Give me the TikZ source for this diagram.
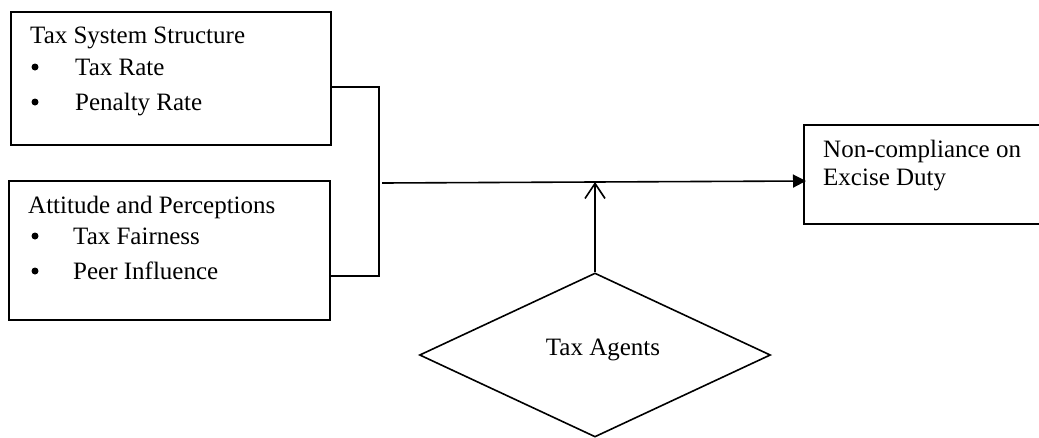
\documentclass[tikz,border=0pt]{standalone}
\usepackage{fontspec}
\setmainfont{Liberation Serif}
\usetikzlibrary{shapes.geometric,arrows.meta}
\begin{document}
\begin{tikzpicture}[x=1pt,y=-1pt,
  box/.style={draw,line width=1.6pt,inner sep=0pt,anchor=north west},
  txt/.style={anchor=base west,inner sep=0pt,font=\fontsize{25}{30}\selectfont},
  conn/.style={line width=1.6pt},
  bul/.style={fill,circle,inner sep=0pt,minimum size=7pt}]
\useasboundingbox (0,0) rectangle (1039,437);
% boxes
\node[box,minimum width=320pt,minimum height=133pt] (b1) at (10,11) {};
\node[box,minimum width=321pt,minimum height=139pt] (b2) at (8,180) {};
\node[box,minimum width=330pt,minimum height=99pt] (b3) at (803,124) {};
\node[draw,diamond,line width=1.6pt,inner sep=0pt,minimum width=351pt,minimum height=164pt] (d) at (595,355) {};
% texts
\node[txt] (t1) at (30,43) {Tax System Structure};
\node[bul] (u1) at (35,67) {};
\node[txt] (t2) at (75,75) {Tax Rate};
\node[bul] (u2) at (35,102) {};
\node[txt] (t3) at (75,110) {Penalty Rate};
\node[txt] (t4) at (28,213) {Attitude and Perceptions};
\node[bul] (u3) at (35,236) {};
\node[txt] (t5) at (73,244) {Tax Fairness};
\node[bul] (u4) at (35,271) {};
\node[txt] (t6) at (73,279) {Peer Influence};
\node[txt] (t7) at (823,157) {Non-compliance on};
\node[txt] (t8) at (823,185) {Excise Duty};
\node[anchor=base,inner sep=0pt,font=\fontsize{25}{30}\selectfont] (t9) at (603,355) {Tax Agents};
% connectors
\coordinate (jt) at (379,87);
\coordinate (jb) at (379,276);
\coordinate (ms) at (382,183);
\coordinate (me) at (806,181);
\coordinate (va) at (595,182);
\draw[conn] (b1.east |- jt) -- (jt) -- (jb) -- (b2.east |- jb);
\draw[conn,-{Triangle[length=13pt,width=13pt]}] (ms) -- (me);
\draw[conn,-{Straight Barb[length=15pt,width=20pt,line width=1.6pt]}] (d.north) -- (va);
\end{tikzpicture}
\end{document}
